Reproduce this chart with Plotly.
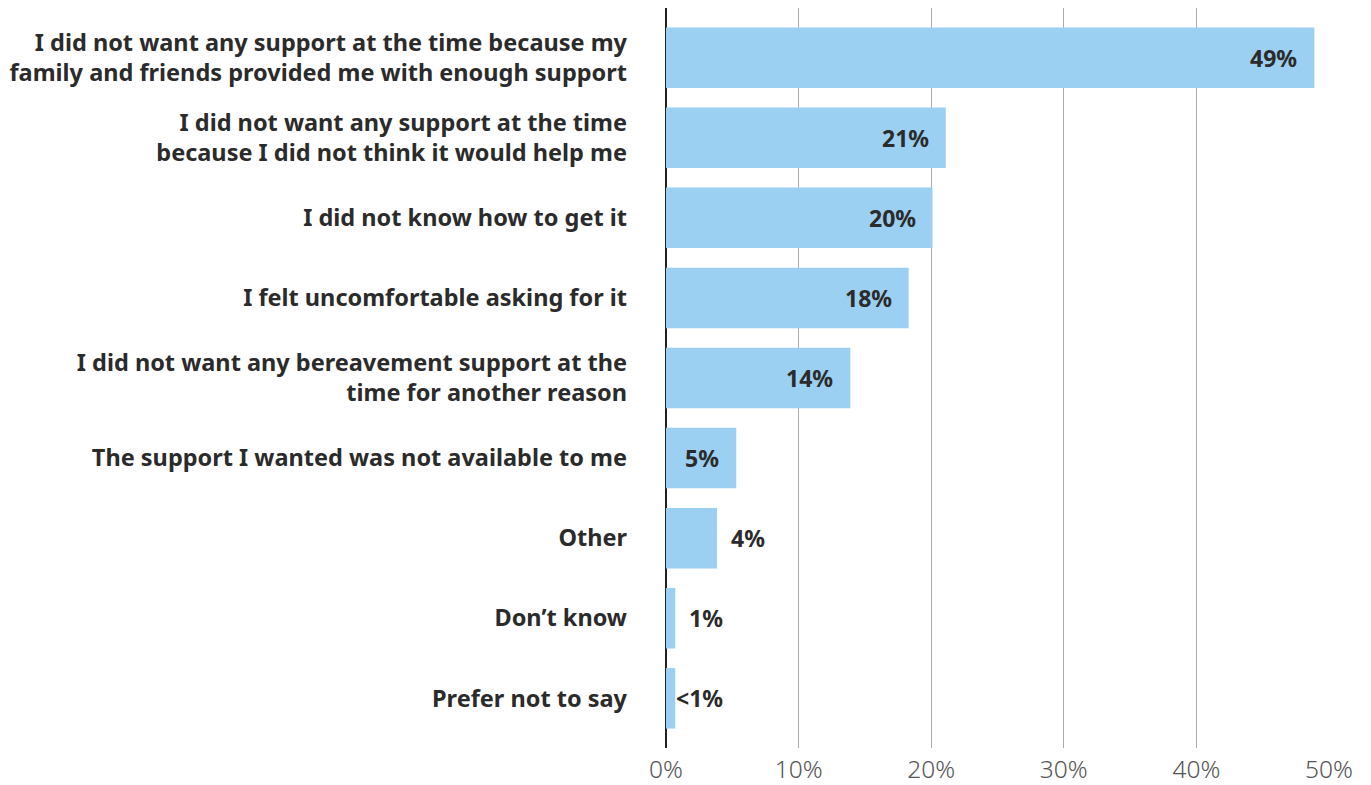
import plotly.graph_objects as go

categories = [
    "I did not want any support at the time because my<br>family and friends provided me with enough support",
    "I did not want any support at the time<br>because I did not think it would help me",
    "I did not know how to get it",
    "I felt uncomfortable asking for it",
    "I did not want any bereavement support at the<br>time for another reason",
    "The support I wanted was not available to me",
    "Other",
    "Don’t know",
    "Prefer not to say",
]
values = [48.9, 21.1, 20.1, 18.3, 13.9, 5.3, 3.85, 0.7, 0.7]
value_labels = ["49%", "21%", "20%", "18%", "14%", "5%", "4%", "1%", "<1%"]
x_ticks = [0, 10, 20, 30, 40, 50]
x_tick_labels = ["0%", "10%", "20%", "30%", "40%", "50%"]

FONT = "Noto Sans"
DARK = "#2b2b2b"

fig = go.Figure()
fig.add_trace(go.Bar(
    y=categories, x=values, orientation="h",
    marker=dict(color="#9BD0F2", line=dict(width=0)),
    width=0.755, hoverinfo="skip",
))

annotations = []
for cat, v, lab in zip(categories, values, value_labels):
    inside = v >= 5
    annotations.append(dict(
        x=v, y=cat, xref="x", yref="y", text="<b>" + lab + "</b>",
        showarrow=False, xanchor="right",
        xshift=-15 if inside else 50,
        font=dict(family=FONT, size=23, color=DARK),
    ))

fig.update_layout(
    width=1371, height=785,
    margin=dict(l=658, r=50, t=0, b=45),
    paper_bgcolor="white", plot_bgcolor="white",
    showlegend=False,
    annotations=annotations,
    xaxis=dict(
        range=[0, 50], tickvals=x_ticks, ticktext=x_tick_labels,
        showgrid=True, gridcolor="#ababab", gridwidth=1,
        zeroline=True, zerolinecolor="#222222", zerolinewidth=2,
        showline=False, ticks="",
        tickfont=dict(family=FONT, size=24.5, color="#555555", weight=300),
        ticklabelstandoff=4,
    ),
    yaxis=dict(
        type="category", range=[8.62, -0.62],
        tickvals=categories,
        ticktext=["<b>" + c + "</b>" for c in categories],
        showgrid=False, zeroline=False, showline=False, ticks="",
        tickfont=dict(family=FONT, size=23.5, color=DARK),
        ticklabelstandoff=38,
    ),
)

fig.write_html("out.html")
